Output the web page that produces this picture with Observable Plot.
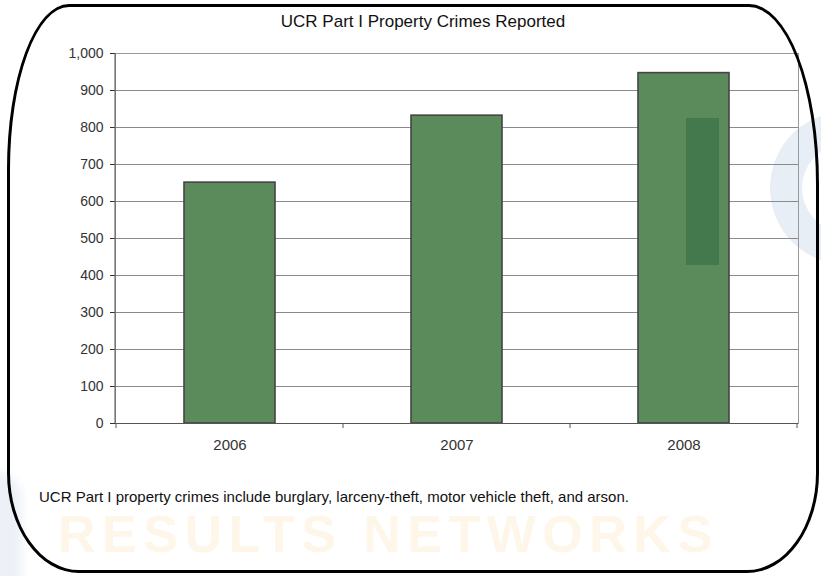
<!DOCTYPE html>
<html>
<head>
<meta charset="utf-8">
<script src="https://cdn.jsdelivr.net/npm/d3@7"></script>
<script src="https://cdn.jsdelivr.net/npm/@observablehq/plot@0.6"></script>
<style>
  html, body { margin: 0; padding: 0; background: #fff; }
  #wrap { position: relative; width: 821px; height: 576px; overflow: hidden; background: #fff; font-family: "Liberation Sans", Arial, sans-serif; }
  .wm-text { position: absolute; left: 58px; top: 514px; font: bold 52px/0.8 "Liberation Sans", Arial, sans-serif; color: #fef6e9; letter-spacing: 6.5px; white-space: nowrap; }
  .wm-ring { position: absolute; left: 770px; top: 112px; width: 150px; height: 152px; border-radius: 50%; border: 32px solid #e8eef6; box-sizing: border-box; background: radial-gradient(circle at 60% 50%, #fff6ea 0 22px, transparent 23px); }
  .wm-blue { position: absolute; left: -40px; top: 470px; width: 62px; height: 140px; background: #edf1f7; border-radius: 30px; filter: blur(4px); }
  .wm-bar { position: absolute; left: 686px; top: 118px; width: 33px; height: 147px; background: rgba(40, 100, 60, 0.45); }
  #plot { position: absolute; left: 0; top: 0; }
  .frame { position: absolute; left: 7px; top: 4px; width: 812px; height: 569px; box-sizing: border-box; border: 3px solid #000;
    border-top-left-radius: 62px 165px; border-top-right-radius: 70px 180px;
    border-bottom-left-radius: 72px 100px; border-bottom-right-radius: 72px 100px; }
  .title { position: absolute; left: 0; width: 846px; top: 13px; text-align: center; font-size: 17px; line-height: 1; color: #111; }
  .caption { position: absolute; left: 39px; top: 489px; font-size: 15px; line-height: 1; color: #111; }
</style>
</head>
<body>
<div id="wrap">
  <div class="wm-text">RESULTS NETWORKS</div>
  <div class="wm-ring"></div>
  <div class="wm-blue"></div>
  <div id="plot"></div>
  <div class="wm-bar"></div>
  <div class="frame"></div>
  <div class="title">UCR Part I Property Crimes Reported</div>
  <div class="caption">UCR Part I property crimes include burglary, larceny-theft, motor vehicle theft, and arson.</div>
</div>
<script>
const years = ["2006", "2007", "2008"];
const crimes = [651, 832, 947];
const yTicks = [0, 100, 200, 300, 400, 500, 600, 700, 800, 900, 1000];

const data = years.map((year, i) => ({year, value: crimes[i]}));

function boundaryTicks(index, scales, values, dimensions) {
  const x = scales.x, y = scales.y;
  const step = x.step ? x.step() : (x(years[1]) - x(years[0]));
  const bw = x.bandwidth ? x.bandwidth() : 0;
  const g = d3.create("svg:g");
  const y0 = y(0);
  const edges = years.map(d => x(d) + bw / 2 - step / 2);
  edges.push(x(years[years.length - 1]) + bw / 2 + step / 2);
  for (const e of edges) {
    g.append("line").attr("x1", e).attr("x2", e).attr("y1", y0).attr("y2", y0 + 5)
      .attr("stroke", "#555").attr("stroke-width", 1);
  }
  const left = dimensions.marginLeft;
  g.append("line").attr("x1", left).attr("x2", left)
    .attr("y1", y(1000)).attr("y2", y0).attr("stroke", "#555").attr("stroke-width", 1);
  return g.node();
}

const chart = Plot.plot({
  width: 821,
  height: 470,
  marginLeft: 115,
  marginRight: 23,
  marginTop: 53,
  marginBottom: 47,
  style: {fontFamily: "'Liberation Sans', Arial, sans-serif", fontSize: "14px", color: "#333", background: "transparent"},
  x: {domain: years, paddingInner: 0.6, paddingOuter: 0.3, label: null, tickSize: 0, tickPadding: 16},
  y: {domain: [0, 1000], ticks: yTicks, tickFormat: d3.format(","), label: null, tickSize: 5, tickPadding: 7},
  marks: [
    Plot.gridY(yTicks, {stroke: "#8a8a8a", strokeOpacity: 1}),
    Plot.frame({stroke: "#999"}),
    Plot.barY(data, {x: "year", y: "value", fill: "#5b8b5b", stroke: "#444", strokeWidth: 1.6}),
    Plot.ruleY([0], {stroke: "#555"}),
    Plot.axisX({tickSize: 0, tickPadding: 16, fontSize: 15, label: null}),
    Plot.axisY(yTicks, {tickSize: 5, tickPadding: 7, tickFormat: d3.format(","), fontSize: 14, label: null}),
    boundaryTicks
  ]
});
document.getElementById("plot").appendChild(chart);
</script>
</body>
</html>
